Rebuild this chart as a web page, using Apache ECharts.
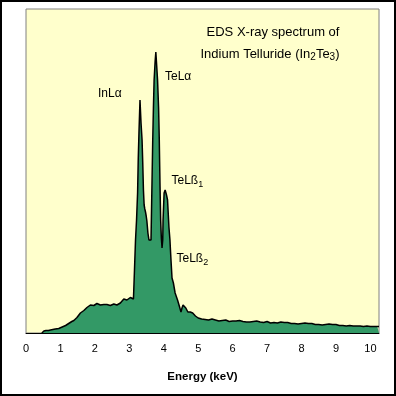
<!DOCTYPE html>
<html><head><meta charset="utf-8">
<script src="https://cdn.jsdelivr.net/npm/echarts@6/dist/echarts.min.js"></script>
<style>html,body{margin:0;padding:0;background:#fff}#c{width:396px;height:396px}</style>
</head><body><div id="c"></div>
<script>
// Energy (keV) of each sample point
const energy = [
  0.46,0.48,0.52,0.58,0.65,0.71,0.78,0.85,0.90,0.95,
  1.00,1.05,1.10,1.15,1.19,1.24,1.29,1.33,1.39,1.43,
  1.48,1.53,1.58,1.63,1.68,1.72,1.77,1.82,1.87,1.92,
  1.97,2.01,2.06,2.11,2.16,2.21,2.26,2.30,2.35,2.40,
  2.45,2.50,2.55,2.60,2.64,2.69,2.74,2.79,2.84,2.88,
  2.93,2.97,3.03,3.08,3.12,3.15,3.18,3.21,3.24,3.26,
  3.28,3.31,3.34,3.37,3.39,3.41,3.43,3.45,3.47,3.49,
  3.51,3.54,3.57,3.60,3.62,3.63,3.66,3.68,3.70,3.72,
  3.75,3.77,3.79,3.82,3.85,3.87,3.89,3.91,3.93,3.95,
  3.97,3.98,4.01,4.04,4.06,4.08,4.11,4.15,4.18,4.19,
  4.21,4.24,4.28,4.33,4.40,4.46,4.50,4.53,4.56,4.59,
  4.64,4.70,4.77,4.84,4.92,5.00,
  5.05,5.10,5.15,5.20,5.25,5.30,5.35,5.40,5.45,5.50,5.55,5.60,5.65,5.70,5.75,5.80,5.85,5.90,5.95,6.00,
  6.05,6.10,6.15,6.20,6.25,6.30,6.35,6.40,6.45,6.50,6.55,6.60,6.65,6.70,6.75,6.80,6.85,6.90,6.95,7.00,
  7.05,7.10,7.15,7.20,7.25,7.30,7.35,7.40,7.45,7.50,7.55,7.60,7.65,7.70,7.75,7.80,7.85,7.90,7.95,8.00,
  8.05,8.10,8.15,8.20,8.25,8.30,8.35,8.40,8.45,8.50,8.55,8.60,8.65,8.70,8.75,8.80,8.85,8.90,8.95,9.00,
  9.05,9.10,9.15,9.20,9.25,9.30,9.35,9.40,9.45,9.50,9.55,9.60,9.65,9.70,9.75,9.80,9.85,9.90,9.95,10.00,
  10.05,10.10,10.15,10.20,10.25
];
// Counts (arbitrary units) at each energy
const counts = [
  0,1.5,2,2.5,2.5,3,3.5,4,4.5,4.5,
  5.5,6,7,7.5,9,9.5,10.5,11.5,12.5,14,
  15.5,17.5,20,21,22.5,24.5,25.5,27.5,28,26.5,
  27.5,28.5,29.5,27.5,28,29.5,28.5,27,28.5,29,
  27.5,28.5,29,27.5,28,29,30,31.5,34,36,
  33,35,35.5,34,34,63,93,113,140,175,
  200,233,210,193,170,143,128,124,121,117,
  112,100,93,91,94,93,153,193,225,253,
  272,281,270,253,225,193,150,113,95,85,
  93,113,140,143,144,138,133,106,93,86,
  73,55,50,40,33,26,21,25,28,29,
  25,21,21,20,17,15,
  14.5,14,15,13.5,14,13,13.5,14,12.5,13,13.5,12,13,12.5,12,13,12,11.5,12.5,12,
  11,12,11.5,12.5,11,11.5,12,11,12,11,10.5,11.5,11,12,10.5,11,11.5,10.5,11,11.5,
  10.5,10,11,10.5,11.5,10,10.5,11,10,10.5,9.5,10.5,10,9.5,10.5,9.5,10,9,10,9.5,
  9,10,9,9.5,8.5,9.5,9,8.5,9.5,8.5,9,8,9,8.5,8,9,8,8.5,7.5,8.5,
  8,7.5,8.5,7.5,8,7,8,7.5,8,7,7.5,7,8,7,7.5,6.5,7.5,7,7.5,6.5,
  7,6.5,7,6.5,6.5
];
const titleLines = ['EDS X-ray spectrum of', 'Indium Telluride (In{s|2}Te{s|3})'];
const peakLabels = ['InLα', 'TeLα', 'TeLß{s|1}', 'TeLß{s|2}'];
const xAxisName = 'Energy (keV)';

const FONT = 'Liberation Sans, Arial, sans-serif';
function txt(text, x, y, size, align) {
  return {
    type: 'text', x: x, y: y, z: 100,
    style: {
      text: text, fill: '#000',
      fontSize: size, fontFamily: FONT, lineHeight: size + 4,
      align: align || 'left', verticalAlign: 'middle',
      rich: { s: { fontSize: size - 3, fontFamily: FONT, fill: '#000', lineHeight: size - 2, verticalAlign: 'bottom' } }
    }
  };
}

const chart = echarts.init(document.getElementById('c'), null, { renderer: 'canvas' });
chart.setOption({
  animation: false,
  backgroundColor: '#fff',
  grid: {
    left: 26, right: 17, top: 9, bottom: 63,
    show: true, backgroundColor: '#FFFFCC', borderColor: '#808080', borderWidth: 1
  },
  xAxis: {
    type: 'value', min: 0, max: 10.25, interval: 1,
    name: xAxisName, nameLocation: 'middle', nameGap: 38,
    nameTextStyle: { fontSize: 11.5, fontWeight: 'bold', color: '#000', fontFamily: FONT },
    axisLine: { show: true, lineStyle: { color: '#000', width: 1 } },
    axisTick: { show: false },
    splitLine: { show: false },
    axisLabel: {
      fontSize: 11, color: '#000', margin: 10, fontFamily: FONT,
      formatter: function (v) { return Number.isInteger(v) ? String(v) : ''; }
    }
  },
  yAxis: {
    type: 'value', min: 0, max: 324, show: false,
    splitLine: { show: false }
  },
  series: [{
    type: 'line',
    data: energy.map(function (e, i) { return [e, counts[i]]; }),
    showSymbol: false, symbol: 'none',
    lineStyle: { color: '#000', width: 1.5 },
    areaStyle: { color: '#339966', opacity: 1 },
    z: 2
  }],
  graphic: [
    { type: 'rect', shape: { x: 1, y: 1, width: 394, height: 394 },
      style: { fill: 'none', stroke: '#000', lineWidth: 2 }, z: 100 },
    txt(titleLines[0], 273, 32.5, 13, 'center'),
    txt(titleLines[1], 270, 54, 13, 'center'),
    txt(peakLabels[0], 98, 93.5, 12),
    txt(peakLabels[1], 165, 77, 12),
    txt(peakLabels[2], 171.5, 181, 12),
    txt(peakLabels[3], 176.5, 259, 12)
  ]
});
</script>
</body></html>
